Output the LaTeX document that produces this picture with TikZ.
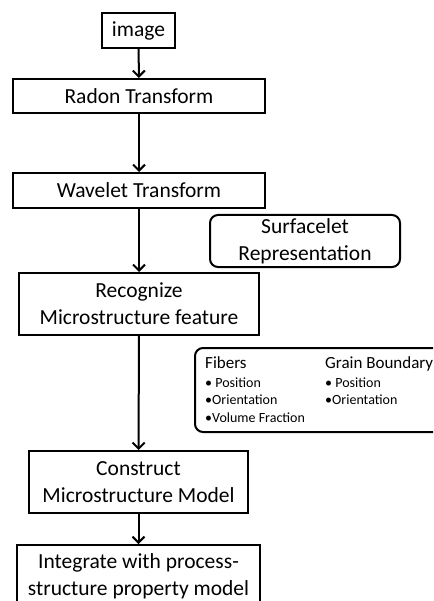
\documentclass[tikz,border=0pt]{standalone}
\usepackage{fontspec}
\setmainfont{Carlito}
\usetikzlibrary{arrows.meta}
\begin{document}
\begin{tikzpicture}[x=1pt,y=-1pt,
  box/.style={draw,line width=2pt,inner sep=0pt,align=center,font=\fontsize{21.5}{27}\selectfont},
  rbox/.style={box,rounded corners=8pt},
  arr/.style={line width=2pt,-{Straight Barb[length=6pt,width=12pt,line width=2pt]}},
  head/.style={inner sep=0pt,anchor=base west,font=\fontsize{17}{20}\selectfont},
  item/.style={inner sep=0pt,anchor=base west,font=\fontsize{14}{17}\selectfont}]
\useasboundingbox (0,0) rectangle (433,601);
\clip (0,0) rectangle (433,601);
\node[box,minimum width=73pt,minimum height=35pt] (img) at (138.5,30.5) {image};
\node[box,minimum width=252pt,minimum height=34pt] (radon) at (139,96) {Radon Transform};
\node[box,minimum width=252pt,minimum height=35pt] (wave) at (139,190.5) {Wavelet Transform};
\node[rbox,minimum width=190pt,minimum height=52pt] (surf) at (305,241) {Surfacelet\\Representation};
\node[box,minimum width=240pt,minimum height=62pt] (recog) at (139,304) {Recognize\\Microstructure feature};
\node[rbox,minimum width=250pt,minimum height=84pt] (feat) at (320,390) {};
\node[head] (fibh) at (205,368) {Fibers};
\node[item] (fib1) at (205,387) {\textbullet\ Position};
\node[item] (fib2) at (205,404.5) {\textbullet Orientation};
\node[item] (fib3) at (205,422) {\textbullet Volume Fraction};
\node[head] (grh) at (325,368) {Grain Boundary};
\node[item] (gr1) at (325,387) {\textbullet\ Position};
\node[item] (gr2) at (325,404.5) {\textbullet Orientation};
\node[box,minimum width=219pt,minimum height=62pt] (cons) at (138.5,482) {Construct\\Microstructure Model};
\node[box,minimum width=243pt,minimum height=62pt] (integ) at (138.5,576) {Integrate with process-\\structure property model};
\draw[arr] (img) -- (radon);
\draw[arr] (radon) -- (wave);
\draw[arr] (wave) -- (recog);
\draw[arr] (recog) -- (cons);
\draw[arr] (cons) -- (integ);
\end{tikzpicture}
\end{document}
